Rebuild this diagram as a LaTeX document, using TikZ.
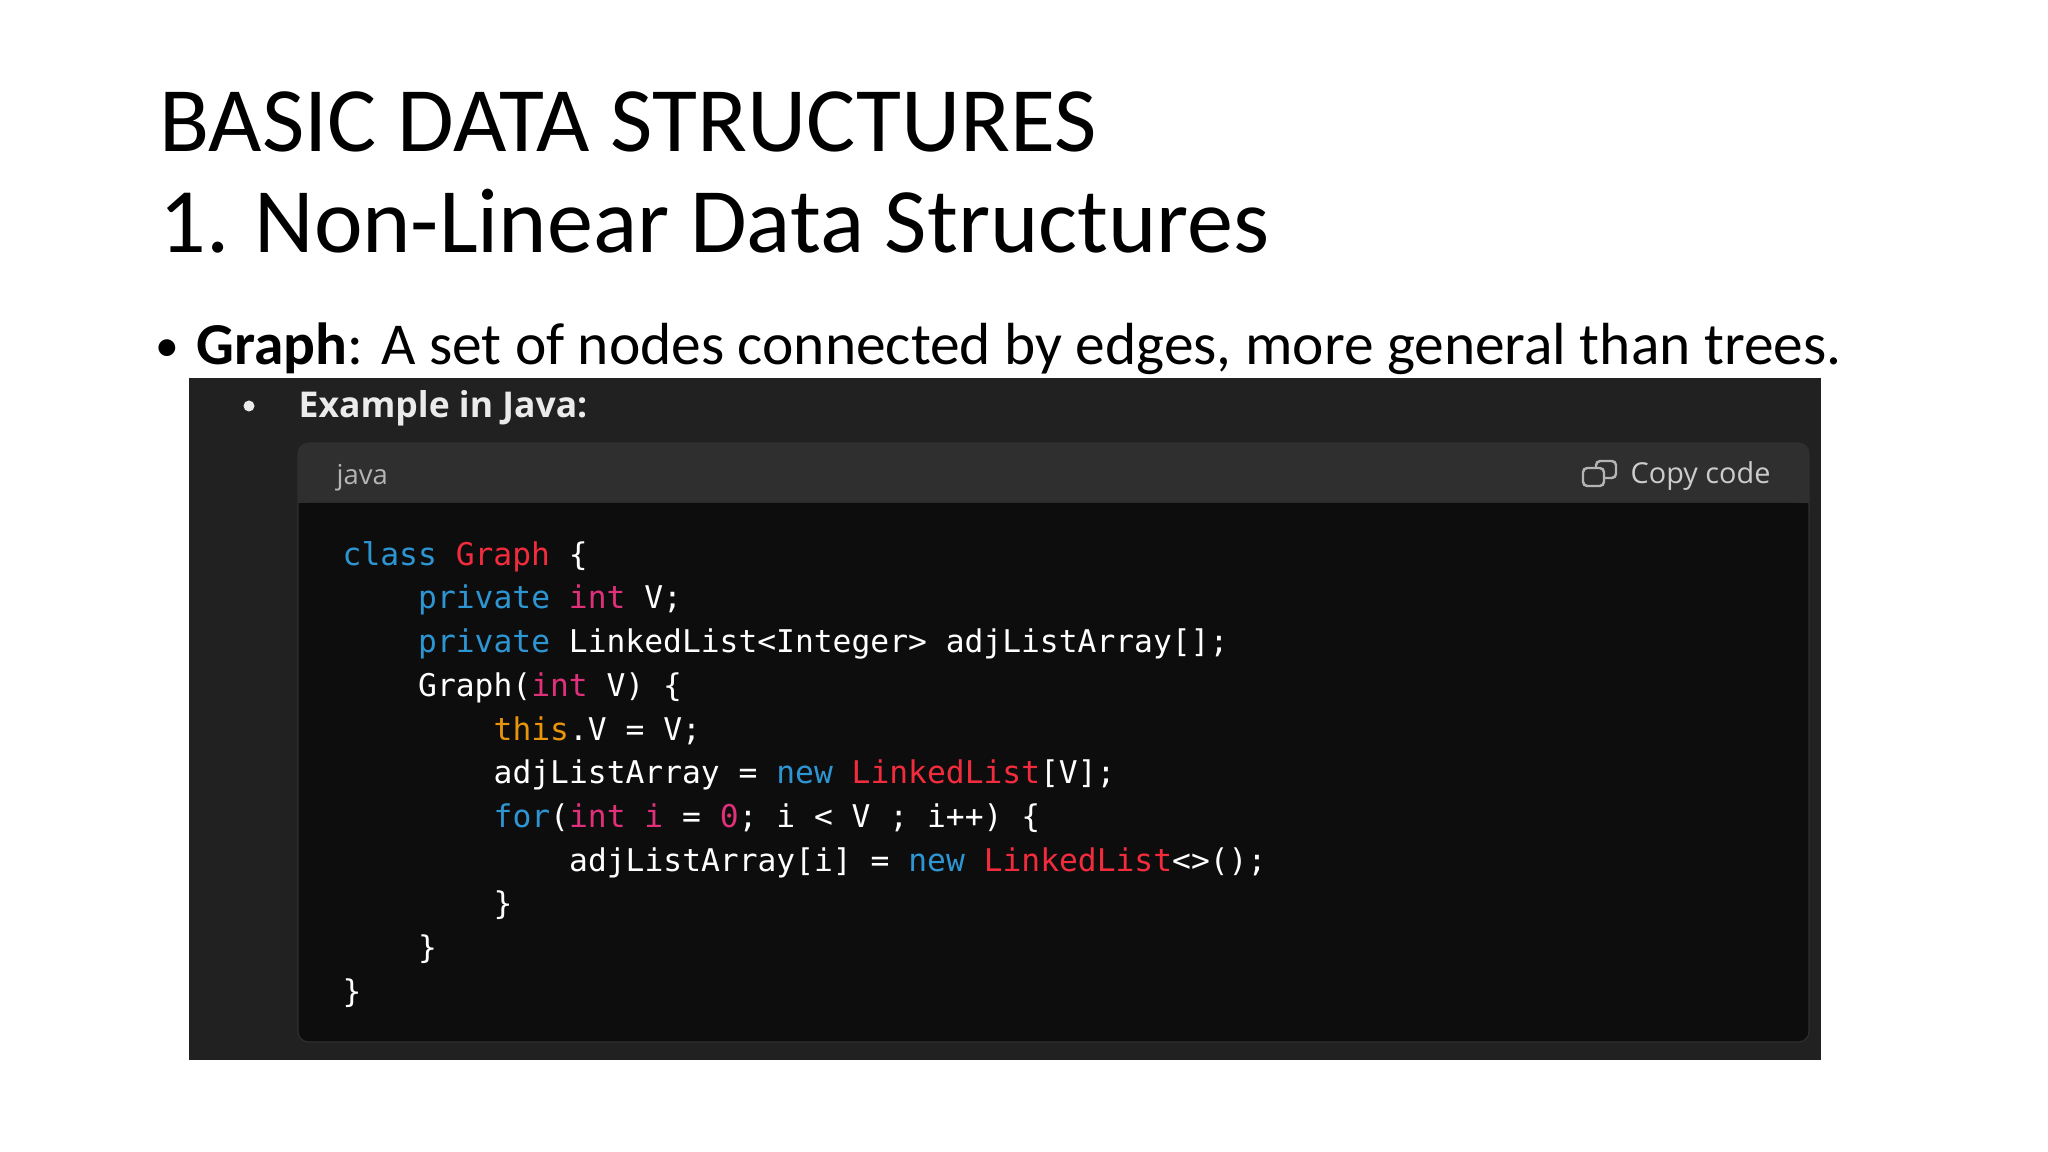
\documentclass[tikz,border=0pt]{standalone}
\usepackage{fontspec}
\setmainfont{Carlito}
\newfontfamily\codefont{DejaVu Sans Mono}
\newfontfamily\uifont{Open Sans}
\definecolor{kwblue}{HTML}{2E95D3}
\definecolor{clsred}{HTML}{F22C3D}
\definecolor{typpink}{HTML}{DF3079}
\definecolor{biorange}{HTML}{E9950C}
\definecolor{shotbg}{HTML}{212121}
\definecolor{headbg}{HTML}{2F2F2F}
\definecolor{codebg}{HTML}{0D0D0D}
\definecolor{uigray}{HTML}{B4B4B4}
\newcommand{\jkw}[1]{\textcolor{kwblue}{#1}}
\newcommand{\jred}[1]{\textcolor{clsred}{#1}}
\newcommand{\jpink}[1]{\textcolor{typpink}{#1}}
\newcommand{\jorange}[1]{\textcolor{biorange}{#1}}
\begin{document}
\begin{tikzpicture}[x=0.01cm, y=-0.01cm,
    every node/.style = {inner sep=0pt, anchor=base west},
    slidetitle/.style = {font=\fontsize{26.2}{30}\selectfont},
    slidetext/.style = {font=\fontsize{16.9}{20}\selectfont},
    uitext/.style = {font=\uifont\fontsize{#1}{10}\selectfont},
    codeline/.style = {font=\codefont\fontsize{8.9}{11}\selectfont, text=white}]
  \useasboundingbox[fill=white] (0,0) rectangle (2048,1152);
  % slide text
  \node[slidetitle] (title1) at (159,152) {BASIC DATA STRUCTURES};
  \node[slidetitle] (title2) at (159,253) {1.\hspace{0.27em}Non-Linear Data Structures};
  \node[slidetext] (gbullet) at (155,362) {\scalebox{0.8}{\textbullet}};
  \node[slidetext] (graph) at (196,365) {\textbf{Graph}: A set of nodes connected by edges, more general than trees.};
  % screenshot
  \fill[shotbg] (189,378) rectangle (1821,1060);
  \fill[headbg, rounded corners=3pt] (298,443) rectangle (1809,1042);
  \fill[codebg, rounded corners=3pt] (298,503) rectangle (1809,1042);
  \fill[codebg] (298,503) rectangle (1809,560);
  \draw[headbg, line width=0.3pt, rounded corners=3pt] (298,443) rectangle (1809,1042);
  \fill[white!92!black] (249,406) circle (5.5);
  \node[uitext=10.1, text=white!92!black] (example) at (298,418) {\bfseries Example in Java:};
  \node[uitext=7.8, text=uigray] (lang) at (336,485) {java};
  \draw[uigray, line width=0.7pt, rounded corners=1.2pt] (1596,461) rectangle (1616,478);
  \draw[uigray, line width=0.7pt, rounded corners=1.2pt, fill=headbg] (1583,468) rectangle (1604,486);
  \node[uitext=8.2, text=white!80!black] (copy) at (1630,484) {Copy code};
  % code lines
  \foreach \ind/\txt [count=\k] in {
      0/{\jkw{class} \jred{Graph} \{},
      1/{\jkw{private} \jpink{int} V;},
      1/{\jkw{private} LinkedList<Integer> adjListArray[];},
      1/{Graph(\jpink{int} V) \{},
      2/{\jorange{this}.V = V;},
      2/{adjListArray = \jkw{new} \jred{LinkedList}[V];},
      2/{\jkw{for}(\jpink{int} \jpink{i} = \jpink{0}; i < V ; i++) \{},
      3/{adjListArray[i] = \jkw{new} \jred{LinkedList}<>();},
      2/{\}},
      1/{\}},
      0/{\}}}
    \node[codeline] (line\k) at ({342+75.5*\ind}, {521.5+43.7*\k}) {\txt};
\end{tikzpicture}
\end{document}
